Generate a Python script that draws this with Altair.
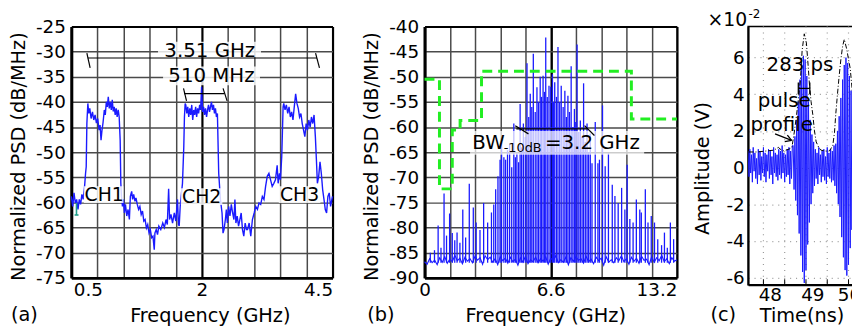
import altair as alt
import pandas as pd

FONT = "DejaVu Sans"
BLUE = "#1a1aff"
GRIDC = "#4a4a4a"

# ======================= panel (a) data =======================
a_trace = [
    (0.000, -58.8), (0.021, -60.8), (0.041, -58.1), (0.061, -60.1), (0.081, -59.4), (0.102, -61.4),
    (0.122, -59.4), (0.142, -60.4), (0.162, -58.4), (0.182, -59.4), (0.203, -56.8), (0.218, -54.2),
    (0.228, -52.9), (0.238, -44.3),
    (0.253, -40.3), (0.268, -42.3), (0.283, -41.3), (0.303, -43.3), (0.324, -42.0), (0.344, -43.6),
    (0.364, -42.6), (0.384, -44.2), (0.404, -43.3), (0.425, -45.6), (0.440, -44.6), (0.455, -47.6),
    (0.470, -45.6), (0.485, -44.2), (0.505, -41.6), (0.520, -42.6), (0.536, -40.0), (0.551, -41.0),
    (0.566, -39.0), (0.581, -41.3), (0.596, -40.0), (0.612, -41.6), (0.627, -39.6), (0.642, -41.9),
    (0.657, -41.0), (0.672, -42.6), (0.687, -41.3), (0.702, -43.0), (0.718, -41.6), (0.733, -43.0),
    (0.748, -47.6), (0.758, -56.2), (0.768, -58.8),
    (0.783, -60.8), (0.798, -59.4), (0.813, -62.1), (0.829, -60.4), (0.849, -62.7), (0.869, -61.4),
    (0.889, -63.4), (0.904, -58.8), (0.924, -57.8), (0.939, -59.4), (0.955, -58.4), (0.975, -59.8),
    (0.990, -59.1), (1.010, -60.4), (1.030, -61.4), (1.050, -60.8), (1.070, -62.4), (1.090, -61.7),
    (1.110, -63.7), (1.130, -63.4), (1.150, -65.1), (1.170, -64.4), (1.190, -66.1), (1.210, -65.4),
    (1.230, -67.0), (1.250, -66.7), (1.270, -69.4), (1.280, -66.1), (1.300, -65.4), (1.320, -66.4),
    (1.340, -64.7),
    (1.370, -65.4), (1.400, -64.1), (1.425, -65.0), (1.450, -63.4), (1.470, -64.4), (1.490, -57.3),
    (1.505, -63.4), (1.526, -62.4), (1.550, -64.1), (1.577, -62.1), (1.600, -63.7), (1.626, -59.4),
    (1.641, -64.4), (1.652, -64.7), (1.667, -60.8), (1.682, -58.8), (1.702, -56.2), (1.722, -49.0),
    (1.732, -43.0), (1.743, -40.3),
    (1.753, -40.6), (1.768, -42.3), (1.783, -41.0), (1.798, -43.0), (1.814, -41.3), (1.829, -42.6),
    (1.844, -40.6), (1.859, -43.6), (1.874, -41.6), (1.889, -42.6), (1.904, -41.0), (1.919, -43.0),
    (1.934, -41.3), (1.949, -42.3), (1.965, -40.6), (1.980, -41.6), (1.995, -37.0), (2.010, -42.0),
    (2.025, -41.0), (2.040, -42.6), (2.055, -41.3), (2.071, -43.0), (2.086, -41.6), (2.101, -40.6),
    (2.116, -42.0), (2.131, -41.0), (2.146, -40.0), (2.161, -41.6), (2.177, -40.6), (2.192, -42.3),
    (2.207, -41.3), (2.222, -43.0), (2.237, -42.3), (2.257, -54.2), (2.283, -59.4), (2.308, -62.1),
    (2.323, -66.1), (2.338, -65.4), (2.359, -63.4), (2.374, -61.4), (2.389, -64.1), (2.409, -60.8),
    (2.429, -62.7), (2.450, -60.4), (2.470, -62.1), (2.490, -63.4), (2.505, -59.4), (2.520, -64.1),
    (2.540, -62.7), (2.561, -64.7), (2.581, -63.4), (2.601, -62.1), (2.621, -65.4), (2.641, -66.7),
    (2.662, -64.1), (2.682, -65.4),
    (2.698, -65.4), (2.723, -64.1), (2.748, -66.7), (2.773, -63.4), (2.800, -62.1), (2.824, -60.8),
    (2.850, -61.4), (2.874, -60.1), (2.900, -60.4), (2.925, -58.8), (2.950, -59.4), (2.975, -56.8),
    (3.000, -54.8), (3.026, -54.2), (3.051, -55.5), (3.076, -56.8), (3.101, -56.2), (3.126, -55.5),
    (3.152, -52.6), (3.167, -56.2), (3.187, -54.2), (3.202, -55.5), (3.222, -50.9), (3.243, -41.0),
    (3.253, -40.3), (3.273, -41.6), (3.293, -40.6), (3.314, -42.3), (3.334, -41.0), (3.354, -43.0),
    (3.374, -42.0), (3.394, -43.6), (3.414, -41.0), (3.435, -38.4), (3.455, -40.3), (3.475, -41.3),
    (3.495, -43.0), (3.516, -42.3), (3.536, -44.3), (3.556, -45.6), (3.576, -46.9), (3.596, -44.3),
    (3.616, -45.6), (3.637, -43.6), (3.657, -45.0), (3.677, -43.0), (3.697, -44.3), (3.717, -42.6),
    (3.737, -46.9), (3.753, -51.5), (3.768, -56.2), (3.788, -54.8), (3.808, -51.9), (3.828, -54.2),
    (3.849, -57.5), (3.869, -59.4), (3.889, -61.4), (3.909, -62.1), (3.929, -58.8), (3.949, -58.1),
    (3.970, -60.8), (3.990, -59.4), (4.000, -58.8),
]
a_xgrid = [0.0, 0.4, 0.8, 1.2, 1.6, 2.0, 2.4, 2.8, 3.2, 3.6, 4.0]
a_xticks = [0.253, 2.0, 4.0]
a_xlabels = ["0.5", "2", "4.5"]
a_yticks = [-75, -70, -65, -60, -55, -50, -45, -40, -35, -30, -25]
a_segments = [
    (0.253, 3.763, -31.26, -31.26), (0.238, 0.288, -30.28, -33.23), (3.740, 3.800, -30.28, -33.23),
    (1.727, 2.344, -38.35, -38.35), (1.718, 1.764, -37.30, -39.80), (2.324, 2.385, -37.30, -39.80),
]
a_boxes = [
    (1.327, 2.905, -28.05, -31.10), (1.405, 2.889, -32.97, -36.70),
    (0.192, 0.798, -56.80, -60.10), (1.677, 2.313, -57.20, -60.50), (3.177, 3.814, -56.80, -60.10),
]
a_labels_big = [("3.51  GHz", 2.12, -31.14), ("510  MHz", 2.146, -36.12)]
a_labels_ch = [("CH1", 0.503, -58.46), ("CH2", 1.995, -58.86), ("CH3", 3.495, -58.46)]
a_teal = [(0.079, 0.079, -60.14, -62.5), (0.050, 0.110, -62.5, -62.5)]
a_tag = [("(a)", -0.924, -83.56)]

# ======================= panel (b) data =======================
b_comb_f = [0.30, 0.52, 0.71, 0.86, 1.02, 1.15, 1.31, 1.45, 1.58, 1.70, 1.85, 2.00, 2.15, 2.34, 2.55,
            2.70, 2.90, 3.09, 3.30, 3.50, 3.62, 3.72, 3.84, 3.95, 4.03, 4.15, 4.24, 4.34, 4.45, 4.56,
            4.67, 4.75, 4.83, 4.92, 5.00, 5.08, 5.17, 5.27, 5.36, 5.45, 5.53, 5.61, 5.69, 5.79, 5.88,
            5.96, 6.05, 6.12, 6.20, 6.27, 6.34, 6.42, 6.51, 6.60, 6.69, 6.75, 6.81, 6.90, 6.98, 7.07,
            7.15, 7.25, 7.34, 7.42, 7.50, 7.58, 7.67, 7.76, 7.84, 7.91, 7.98, 8.07, 8.15, 8.24, 8.32,
            8.41, 8.50, 8.58, 8.67, 8.76, 8.93, 9.07, 9.15, 9.31, 9.45, 9.62, 9.82, 9.96, 10.13, 10.31,
            10.48, 10.60, 10.74, 10.91, 11.08, 11.26, 11.34, 11.55, 11.69, 11.86, 12.03, 12.20, 12.40,
            12.55, 12.70, 12.86, 13.03]
b_comb_pk = [-85.0, -84.5, -79.6, -84.0, -73.2, -81.6, -77.2, -81.1, -82.5, -81.0, -83.0, -76.4, -82.0,
             -71.3, -76.0, -79.0, -80.5, -75.1, -79.0, -77.0, -75.4, -72.4, -69.8, -66.5, -62.9, -66.0,
             -66.5, -64.6, -63.3, -68.0, -59.3, -66.0, -65.2, -67.0, -55.4, -64.0, -59.3, -62.0, -47.3,
             -58.0, -53.4, -56.0, -45.4, -57.0, -52.1, -55.0, -50.0, -54.0, -49.8, -53.0, -42.2, -54.0,
             -51.8, -52.0, -49.5, -55.0, -51.1, -54.0, -44.1, -55.0, -51.8, -56.0, -52.8, -58.0, -53.8,
             -57.0, -47.9, -60.0, -56.4, -59.0, -43.6, -61.0, -58.7, -62.0, -51.3, -63.0, -59.3, -65.0,
             -61.3, -67.2, -59.0, -67.2, -66.5, -55.7, -67.8, -65.2, -71.5, -73.7, -75.1, -72.1, -76.4,
             -67.5, -78.3, -79.0, -74.4, -76.4, -77.0, -72.4, -79.0, -77.7, -79.0, -82.3, -83.5, -81.0,
             -84.0, -79.0, -82.3]
b_floor_step = 0.132
b_floor = [-86.8, -87.3, -86.2, -87.0, -86.5, -87.4, -86.0, -86.9, -85.8, -87.1,
           -86.3, -86.8, -85.5, -86.6, -86.1, -87.2, -85.9, -86.7, -86.2, -87.0,
           -85.7, -86.5, -86.0, -87.3, -85.6, -86.4, -85.9, -86.9, -86.2, -87.4,
           -85.8, -86.6, -86.1, -87.1, -85.9, -86.8, -86.3, -87.5, -86.0, -86.9,
           -85.7, -87.2, -86.4, -86.8, -85.9, -87.0, -86.2, -86.7, -85.8, -87.3,
           -86.1, -86.6, -85.6, -87.0, -86.4, -86.9, -85.9, -87.4, -86.0, -86.7,
           -85.8, -86.5, -86.2, -87.1, -85.7, -86.8, -86.3, -87.2, -85.9, -86.6,
           -86.1, -87.5, -85.8, -86.9, -86.4, -87.0, -86.0, -86.6, -85.6, -86.8,
           -86.2, -87.3, -85.9, -86.7, -86.1, -87.1, -85.7, -86.5, -86.3, -87.4,
           -85.8, -86.9, -86.0, -86.6, -85.5, -86.8, -86.2, -87.2, -86.0, -86.7, -86.4]
b_mask = [(0.0, -50.5), (0.78, -50.5), (0.78, -72.3), (1.45, -72.3), (1.45, -60.6), (1.86, -60.6),
          (1.86, -58.7), (2.98, -58.7), (2.98, -48.9), (10.82, -48.9), (10.82, -58.4), (13.2, -58.4)]
b_xgrid = [0.0, 1.32, 2.64, 3.96, 5.28, 6.6, 7.92, 9.24, 10.56, 11.88, 13.2]
b_xlabels = {0.0: "0", 6.6: "6.6", 13.2: "13.2"}
b_yticks = [-90, -85, -80, -75, -70, -65, -60, -55, -50, -45, -40]
b_segments = [(4.80, 8.54, -60.37, -60.37), (4.746, 5.435, -59.72, -61.36), (8.37, 8.887, -59.72, -61.69)]
b_box = [(2.38, 11.49, -60.8, -65.5)]
b_text_main = [("BW", 2.50, -64.31), ("=3.2 GHz", 6.30, -64.31)]
b_text_sub = [("-10dB", 4.14, -64.96)]
b_tag = [("(b)", -3.0, -98.56)]

# ======================= panel (c) data =======================
c_t0 = 47.49
c_dt = 0.02
c_amp = [0.9, -0.5, 1.0, -0.3, 0.7, -0.8, 1.1, -0.2, 0.8, -0.6,
         0.5, -0.9, 1.0, -0.4, 0.9, -0.7, 0.6, -0.3, 1.1, -0.5,
         0.8, -0.8, 0.7, -0.2, 1.0, -0.6, 0.9, -0.4, 0.6, -0.9,
         1.1, -0.3, 0.8, -0.5, 0.7, -0.7, 1.0, -0.4, 0.9, -0.6,
         1.2, -0.3, 0.8, -0.8, 0.7, -0.5, 1.0, -0.4, 1.1, -0.9,
         0.9, -0.6, 1.2,
         1.2, -1.2, 1.7, -1.8, 2.6, -2.6, 3.6, -3.6, 4.8, -4.8, 5.6, -5.7, 6.1, -6.3,
         5.9, -5.6, 5.0, -4.2, 3.6, -3.0, 2.6, -2.0, 1.8, -1.4, 1.4, -1.0,
         1.0, -0.6, 0.8, -0.9, 1.1, -0.4, 0.7, -0.8, 0.9, -0.5, 1.0, -0.7,
         0.6, -0.9, 1.1, -0.5, 0.8, -0.6, 1.0, -0.8, 0.9, -0.7, 1.2, -1.0,
         1.3, -1.4, 2.0, -2.0, 2.8, -2.7, 3.8, -3.8, 4.8, -4.9, 5.6, -5.6, 6.0, -5.9,
         5.7, -5.3, 5.0, -4.4, 4.2, -3.4, 3.5, -2.6, 2.8, -2.0, 2.2, -1.6, 1.6, -1.2, 1.2, -1.0]
c_profile = [(47.50, 0.85), (47.70, 0.85), (47.90, 0.90), (48.10, 0.95), (48.20, 1.10), (48.30, 0.90),
             (48.45, 1.00), (48.52, 1.10), (48.58, 2.00), (48.63, 2.90), (48.68, 3.90), (48.72, 4.80),
             (48.76, 6.40), (48.81, 7.30), (48.86, 6.80), (48.90, 5.60), (48.93, 4.60), (48.97, 3.60),
             (49.01, 2.90), (49.05, 2.00), (49.09, 1.40), (49.15, 1.10), (49.20, 0.95), (49.30, 0.90),
             (49.40, 0.90), (49.48, 1.20), (49.52, 1.90), (49.55, 2.90), (49.59, 4.00), (49.63, 5.00),
             (49.67, 5.90), (49.71, 6.60), (49.75, 7.00), (49.81, 6.45), (49.85, 5.90), (49.89, 5.40),
             (49.93, 4.40), (49.96, 3.60), (50.00, 2.50), (50.03, 1.60), (50.07, 1.00), (50.10, 0.60)]
c_xticks = [48, 49, 50]
c_yticks = [-6, -4, -2, 0, 2, 4, 6]
c_minor = [47.85, 48.35, 48.85, 49.35, 49.85]
c_segments = [
    (48.67, 48.94, 4.32, 4.32), (48.67, 48.67, 4.0, 4.64), (48.94, 48.94, 4.0, 4.64),
    (48.123, 48.512, 1.84, 1.48), (48.412, 48.512, 1.77, 1.48), (48.351, 48.512, 1.42, 1.48),
]
c_text20 = [("283 ps", 48.709, 5.57), ("pulse", 48.337, 3.62), ("profile", 48.279, 2.32)]
c_exp_base = [("\u00d710", 46.535, 7.754)]
c_exp_sup = [("-2", 47.50, 8.16)]
c_tag = [("(c)", 46.605, -8.37)]


def seg_df(rows):
    return pd.DataFrame(rows, columns=["x", "x2", "y", "y2"])


def txt_df(rows):
    return pd.DataFrame(rows, columns=["t", "x", "y"])


# ======================= panel (a) =======================
AW, AH = 264, 254
A_EXTRA = 21
a_xs = alt.Scale(domain=[0, 4], range=[0, AW], nice=False, zero=False)
a_ys = alt.Scale(domain=[-75, -25], nice=False, zero=False)
a_xvals = sorted(set(a_xgrid + a_xticks))
a_lab_expr = " : ".join(f"datum.value == {v} ? '{l}'" for v, l in zip(a_xticks, a_xlabels)) + " : ''"
a_xaxis = alt.Axis(
    values=a_xvals, labelExpr=a_lab_expr, labelOverlap=False, ticks=False, labelPadding=3,
    labelAlign={"condition": {"test": "datum.value == 4", "value": "right"}, "value": "center"},
    grid=True,
    gridColor={"condition": {"test": "datum.value == 2 || datum.value == 0 || datum.value == 4", "value": "black"}, "value": GRIDC},
    gridWidth={"condition": {"test": "datum.value == 2 || datum.value == 0 || datum.value == 4", "value": 2.2}, "value": 1.5},
    gridOpacity={"condition": {"test": "datum.value == 0.253", "value": 0}, "value": 1},
    domain=True, domainColor="black", domainWidth=2.5,
    title="Frequency (GHz)", titleX=140, titlePadding=8,
)
a_yaxis = alt.Axis(
    values=a_yticks, labelExpr="datum.value + ''", labelOverlap=False, ticks=False, labelPadding=6,
    grid=True,
    gridColor={"condition": {"test": "datum.value == -25 || datum.value == -75", "value": "black"}, "value": GRIDC},
    gridWidth={"condition": {"test": "datum.value == -25 || datum.value == -75", "value": 2.2}, "value": 1.5},
    domain=True, domainColor="black", domainWidth=3,
    title="Normalized PSD (dB/MHz)", titleY=131, titlePadding=7,
)


def ax(field="x"):
    return alt.X(f"{field}:Q", scale=a_xs, axis=a_xaxis)


def ay(field="y"):
    return alt.Y(f"{field}:Q", scale=a_ys, axis=a_yaxis)


df_a = pd.DataFrame(a_trace, columns=["x", "y"])
a_line = alt.Chart(df_a).mark_line(color=BLUE, strokeWidth=1.4).encode(x=ax(), y=ay())
a_teal_l = alt.Chart(seg_df(a_teal)).mark_rule(color="#1f9e8a", strokeWidth=1.6).encode(
    x=ax(), x2="x2:Q", y=ay(), y2="y2:Q")
a_box_l = alt.Chart(seg_df(a_boxes)).mark_rect(color="white", opacity=0.82).encode(
    x=ax(), x2="x2:Q", y=ay(), y2="y2:Q")
a_seg_l = alt.Chart(seg_df(a_segments)).mark_rule(color="black", strokeWidth=1.2).encode(
    x=ax(), x2="x2:Q", y=ay(), y2="y2:Q")
a_big_l = alt.Chart(txt_df(a_labels_big)).mark_text(font=FONT, fontSize=20, color="black", align="center", baseline="alphabetic").encode(
    x=ax(), y=ay(), text="t:N")
a_ch_l = alt.Chart(txt_df(a_labels_ch)).mark_text(font=FONT, fontSize=19, color="black", align="center", baseline="middle").encode(
    x=ax(), y=ay(), text="t:N")
a_tag_l = alt.Chart(txt_df(a_tag)).mark_text(font=FONT, fontSize=19.5, color="black", align="left", baseline="alphabetic").encode(
    x=ax(), y=ay(), text="t:N")
panel_a = alt.layer(a_line, a_teal_l, a_box_l, a_seg_l, a_big_l, a_ch_l, a_tag_l).properties(width=AW + A_EXTRA, height=AH)

# ======================= panel (b) =======================
BW_, BH = 255, 254
b_xs = alt.Scale(domain=[0, 13.2], nice=False, zero=False)
b_ys = alt.Scale(domain=[-90, -40], nice=False, zero=False)
b_lab_expr = " : ".join(f"datum.value == {v} ? '{l}'" for v, l in b_xlabels.items()) + " : ''"
b_xaxis = alt.Axis(
    values=b_xgrid, labelExpr=b_lab_expr, labelOverlap=False, ticks=False, labelPadding=3,
    labelAlign={"condition": {"test": "datum.value == 13.2", "value": "right"}, "value": "center"},
    grid=True,
    gridColor={"condition": {"test": "datum.value == 6.6 || datum.value == 0 || datum.value == 13.2", "value": "black"}, "value": GRIDC},
    gridWidth={"condition": {"test": "datum.value == 6.6 || datum.value == 0 || datum.value == 13.2", "value": 2.4}, "value": 1.5},
    domain=True, domainColor="black", domainWidth=2.5,
    title="Frequency (GHz)", titleX=122, titlePadding=8,
)
b_yaxis = alt.Axis(
    values=b_yticks, labelExpr="datum.value + ''", labelOverlap=False, ticks=False, labelPadding=6,
    grid=True,
    gridColor={"condition": {"test": "datum.value == -40 || datum.value == -90", "value": "black"}, "value": GRIDC},
    gridWidth={"condition": {"test": "datum.value == -40 || datum.value == -90", "value": 2.2}, "value": 1.5},
    domain=True, domainColor="black", domainWidth=3,
    title="Normalized PSD (dB/MHz)", titleY=131, titlePadding=7,
)


def bx(field="x"):
    return alt.X(f"{field}:Q", scale=b_xs, axis=b_xaxis)


def by(field="y"):
    return alt.Y(f"{field}:Q", scale=b_ys, axis=b_yaxis)


df_floor = pd.DataFrame({"x": [i * b_floor_step for i in range(len(b_floor))], "y": b_floor})
b_floor_l = alt.Chart(df_floor).mark_line(color=BLUE, strokeWidth=1.1).encode(x=bx(), y=by())
df_comb = pd.DataFrame({"x": b_comb_f, "y": b_comb_pk})
b_comb_l = alt.Chart(df_comb).mark_rule(color=BLUE, strokeWidth=1.3).encode(
    x=bx(), y=by(), y2=alt.datum(-87.0))
df_mask = pd.DataFrame(b_mask, columns=["x", "y"]).reset_index()
b_mask_l = alt.Chart(df_mask).mark_line(color="#22ee22", strokeWidth=3, strokeDash=[10, 6]).encode(
    x=bx(), y=by(), order="index:Q")
b_box_l = alt.Chart(seg_df(b_box)).mark_rect(color="white", opacity=0.72).encode(
    x=bx(), x2="x2:Q", y=by(), y2="y2:Q")
b_seg_l = alt.Chart(seg_df(b_segments)).mark_rule(color="black", strokeWidth=1.2).encode(
    x=bx(), x2="x2:Q", y=by(), y2="y2:Q")
b_txt_l = alt.Chart(txt_df(b_text_main)).mark_text(font=FONT, fontSize=20, color="black", align="left", baseline="alphabetic").encode(
    x=bx(), y=by(), text="t:N")
b_sub_l = alt.Chart(txt_df(b_text_sub)).mark_text(font=FONT, fontSize=13, color="black", align="left", baseline="alphabetic").encode(
    x=bx(), y=by(), text="t:N")
b_tag_l = alt.Chart(txt_df(b_tag)).mark_text(font=FONT, fontSize=19.5, color="black", align="left", baseline="alphabetic").encode(
    x=bx(), y=by(), text="t:N")
panel_b = alt.layer(b_floor_l, b_comb_l, b_mask_l, b_box_l, b_seg_l, b_txt_l, b_sub_l, b_tag_l).properties(width=BW_, height=BH)

# ======================= panel (c) =======================
CW, CH = 118, 261
c_xs = alt.Scale(domain=[c_t0, c_t0 + CW / 43.0], nice=False, zero=False)
c_ys = alt.Scale(domain=[-6.4, 7.7], nice=False, zero=False)
c_xaxis = alt.Axis(values=c_xticks, labelExpr="datum.value + ''", ticks=False, labelPadding=1, grid=False,
                   labelOffset={"condition": {"test": "datum.value == 50", "value": -6}, "value": 0},
                   domain=True, domainColor="black", domainWidth=2, labelOverlap=False,
                   title="Time(ns)", titleX=54, titlePadding=3)
c_yaxis = alt.Axis(values=c_yticks, labelExpr="datum.value + ''", ticks=False, labelPadding=4,
                   grid=True, gridColor="#9a9a9a", gridDash=[1, 5], gridWidth=1.2,
                   domain=True, domainColor="black", domainWidth=2, labelOverlap=False,
                   title="Amplitude (V)", titleY=143, titlePadding=14)


def cx(field="x"):
    return alt.X(f"{field}:Q", scale=c_xs, axis=c_xaxis)


def cy(field="y"):
    return alt.Y(f"{field}:Q", scale=c_ys, axis=c_yaxis)


df_sig = pd.DataFrame({"x": [c_t0 + i * c_dt for i in range(len(c_amp))], "y": c_amp})
c_sig_l = alt.Chart(df_sig).mark_line(color=BLUE, strokeWidth=1.0, clip=True).encode(x=cx(), y=cy())
c_grid_l = alt.Chart(pd.DataFrame({"x": c_minor})).mark_rule(color="#9a9a9a", strokeDash=[1, 5], strokeWidth=1.2).encode(x=cx())
c_tick_l = alt.Chart(pd.DataFrame({"x": c_minor})).mark_rule(color="black", strokeWidth=1).encode(
    x=cx(), y=alt.datum(-6.4), y2=alt.datum(-6.1))
df_prof = pd.DataFrame(c_profile, columns=["x", "y"])
c_prof_l = alt.Chart(df_prof).mark_line(color="black", strokeWidth=1.0, strokeDash=[5, 2, 1, 2], clip=True).encode(
    x=cx(), y=cy())
c_seg_l = alt.Chart(seg_df(c_segments)).mark_rule(color="black", strokeWidth=1.3).encode(
    x=cx(), x2="x2:Q", y=cy(), y2="y2:Q")
c_txt_l = alt.Chart(txt_df(c_text20)).mark_text(font=FONT, fontSize=20, color="black", align="center", baseline="middle").encode(
    x=cx(), y=cy(), text="t:N")
c_exp_l = alt.Chart(txt_df(c_exp_base)).mark_text(font=FONT, fontSize=19, color="black", align="left", baseline="alphabetic").encode(
    x=cx(), y=cy(), text="t:N")
c_sup_l = alt.Chart(txt_df(c_exp_sup)).mark_text(font=FONT, fontSize=12, color="black", align="left", baseline="alphabetic").encode(
    x=cx(), y=cy(), text="t:N")
c_tag_l = alt.Chart(txt_df(c_tag)).mark_text(font=FONT, fontSize=19.5, color="black", align="left", baseline="alphabetic").encode(
    x=cx(), y=cy(), text="t:N")
panel_c = alt.layer(c_grid_l, c_sig_l, c_prof_l, c_tick_l, c_seg_l, c_txt_l, c_exp_l, c_sup_l, c_tag_l).properties(
    width=CW, height=CH, view=alt.ViewBackground(stroke="black", strokeWidth=1.5))

chart = alt.hconcat(panel_a, panel_b, panel_c, spacing=72, bounds="flush").properties(
    padding={"left": 0, "top": -3, "right": -14, "bottom": 0}
).configure_axis(
    labelFont=FONT, titleFont=FONT, labelFontSize=18.5, titleFontSize=19.5,
    labelColor="black", titleColor="black", titleFontWeight="normal",
).configure_view(strokeWidth=0)

chart.save("out.html", embed_options={"renderer": "svg", "actions": False})
